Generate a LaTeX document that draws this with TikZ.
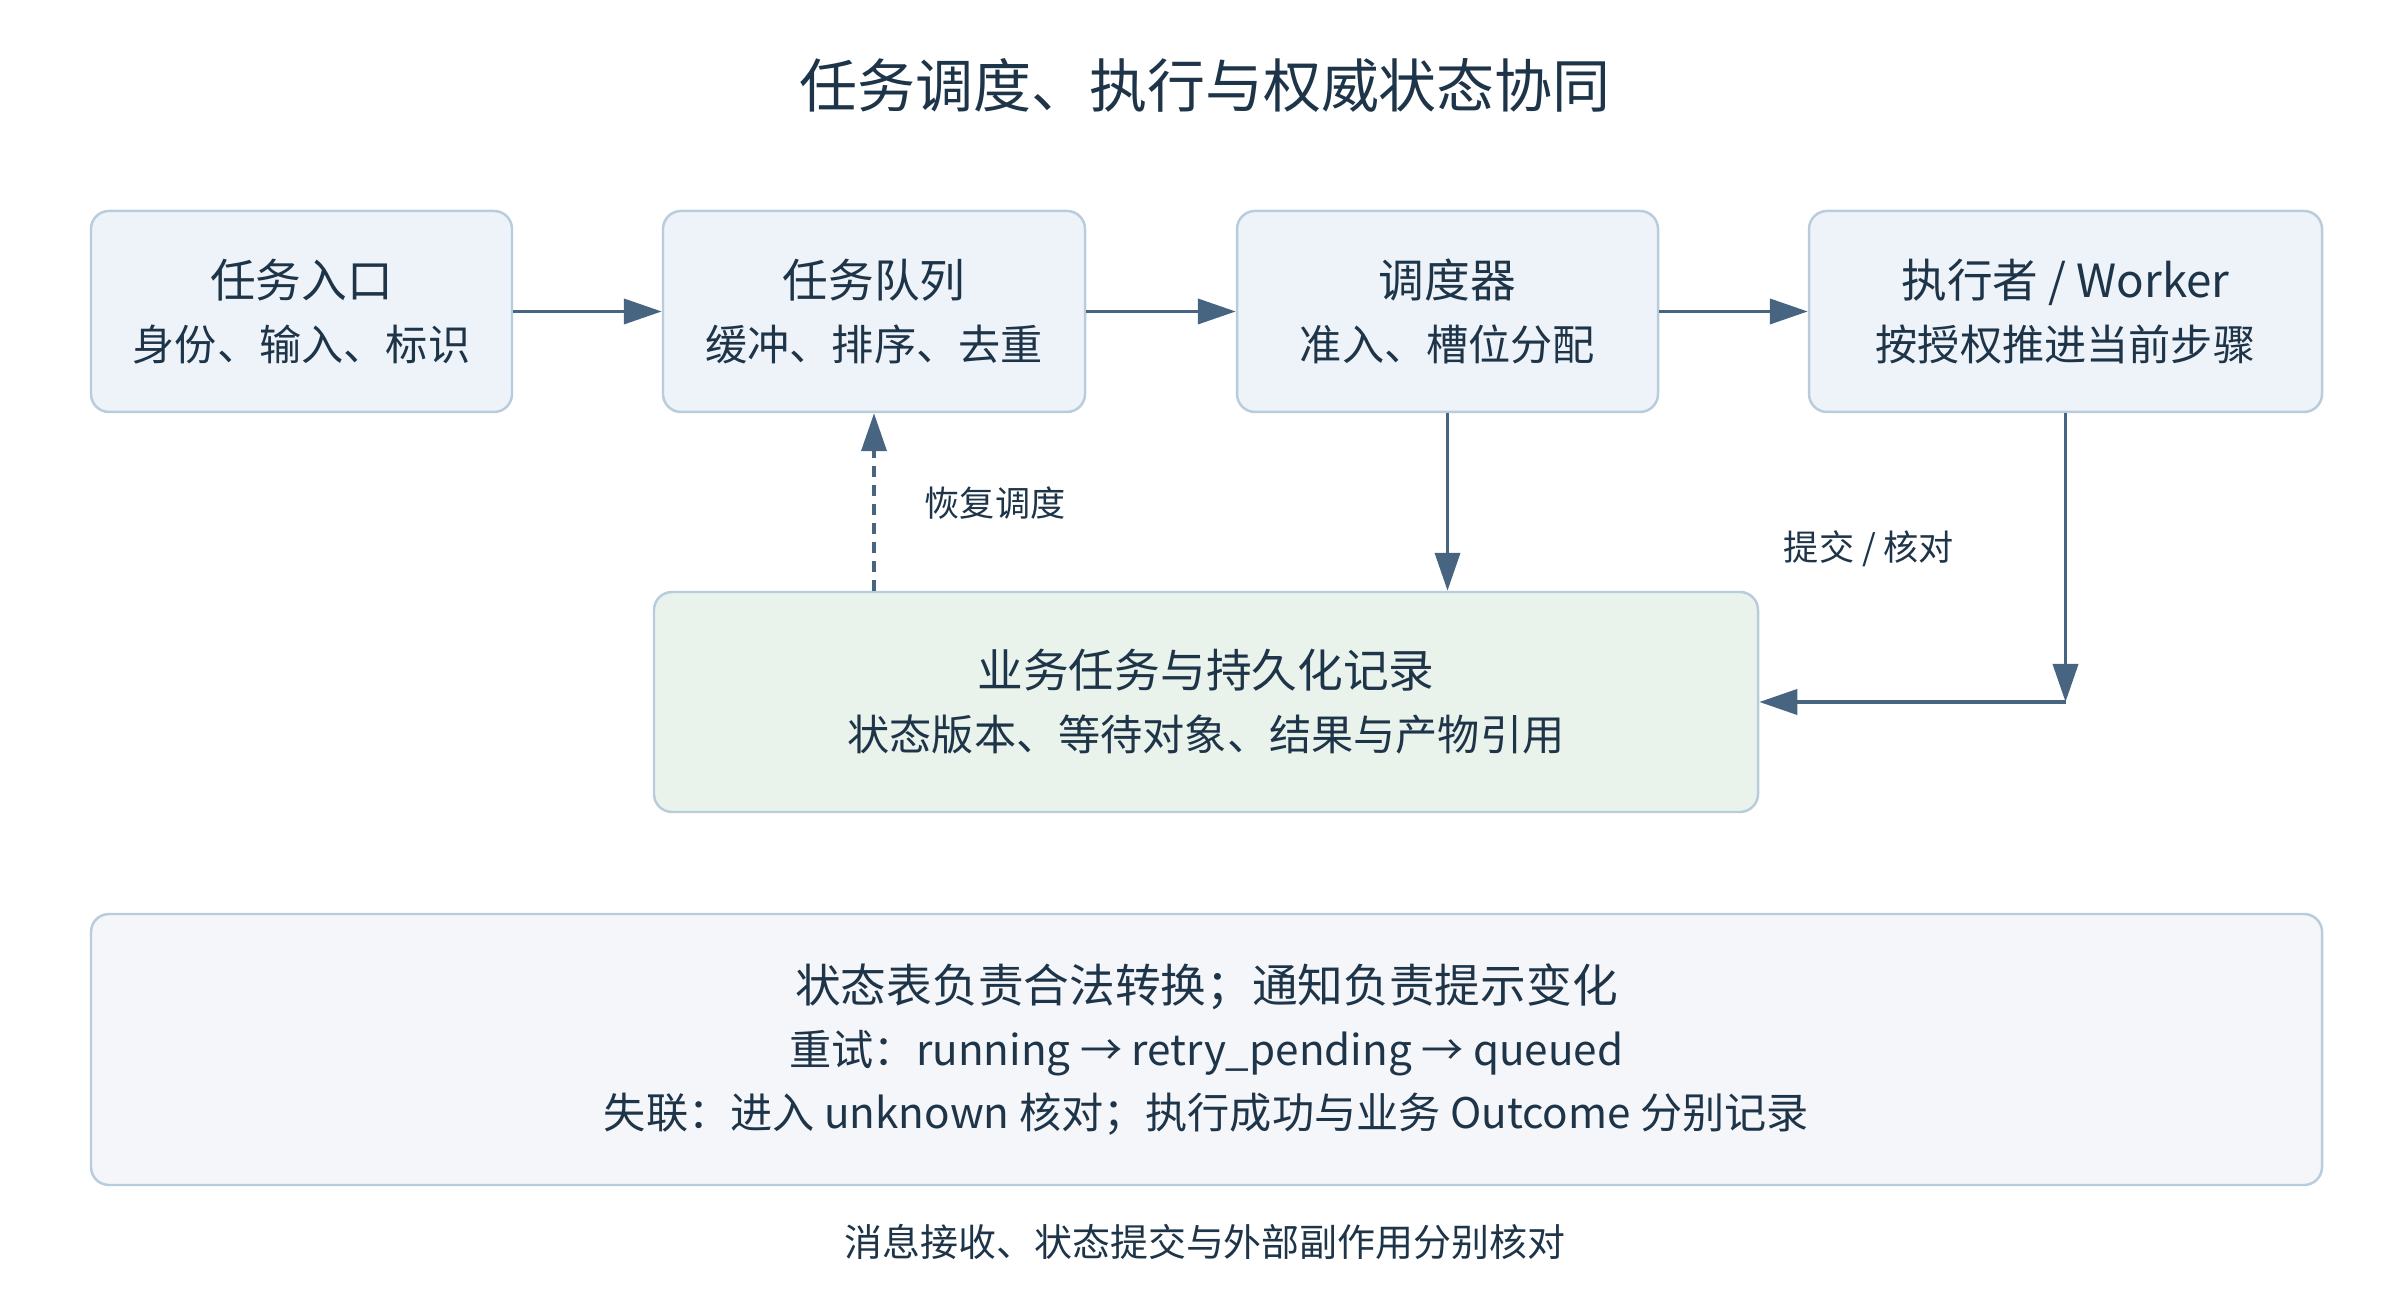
\documentclass[tikz,border=0pt]{standalone}
\usepackage{fontspec}
\setmainfont{Noto Sans CJK SC}
\usepackage{tikz}
\usetikzlibrary{arrows.meta,positioning,calc}

\definecolor{inkc}{HTML}{1E3448}
\definecolor{linec}{HTML}{476580}
\definecolor{stagefill}{HTML}{EDF3F9}
\definecolor{stageedge}{HTML}{B9CCDC}
\definecolor{recfill}{HTML}{E9F3EC}
\definecolor{notefill}{HTML}{F4F6FA}

\newcommand\fs[2]{\fontsize{#1}{#2}\selectfont}

\tikzset{
  stagebox/.style={draw=stageedge,line width=0.7pt,fill=stagefill,rounded corners=0.18cm,
    minimum height=2.01cm,align=center,text=inkc,font=\fs{12}{18}},
  recordbox/.style={stagebox,fill=recfill,minimum height=2.2cm},
  notebox/.style={stagebox,fill=notefill,minimum height=2.71cm},
  flow/.style={-{Triangle[length=0.38cm,width=0.25cm]},draw=linec,line width=1.1pt},
  flowback/.style={flow,dash pattern=on 3pt off 2.4pt},
  tag/.style={text=inkc,font=\fs{10}{12}}
}

\begin{document}
\begin{tikzpicture}
  \useasboundingbox (0,0) rectangle (24,13);

  % ====== Title ======
  \node[text=inkc,font=\fs{16.5}{20}] (title) at (12.05,12.15)
    {任务调度、执行与权威状态协同};

  % ====== Stage boxes ======
  \node[stagebox,minimum width=4.21cm] (entry) at (3.015,9.885)
    {{\fs{13}{18}任务入口}\\身份、输入、标识};
  \node[stagebox,minimum width=4.22cm] (queue) at (8.74,9.885)
    {{\fs{13}{18}任务队列}\\缓冲、排序、去重};
  \node[stagebox,minimum width=4.21cm] (sched) at (14.475,9.885)
    {{\fs{13}{18}调度器}\\准入、槽位分配};
  \node[stagebox,minimum width=5.13cm] (worker) at (20.655,9.885)
    {{\fs{13}{18}执行者 / Worker}\\按授权推进当前步骤};

  % ====== Record store ======
  \node[recordbox,minimum width=11.04cm] (record) at (12.06,5.98)
    {{\fs{13}{18}业务任务与持久化记录}\\状态版本、等待对象、结果与产物引用};

  % ====== Connectors ======
  \draw[flow] (entry) -- (queue);
  \draw[flow] (queue) -- (sched);
  \draw[flow] (sched) -- (worker);
  \draw[flow] (sched.south) -- (sched.south |- record.north);
  \draw[flowback] (queue.south |- record.north) -- (queue.south);
  \coordinate (turn) at (worker.south |- record.east);
  \draw[flow] (worker.south) -- (turn);
  \draw[flow] (turn) -- (record.east);
  \node[tag] (resume) at (9.95,7.97) {恢复调度};
  \node[tag] (commit) at (18.69,7.51) {提交 / 核对};

  % ====== Notes ======
  \node[notebox,minimum width=22.31cm] (note) at (12.065,2.505)
    {{\fs{13}{18}状态表负责合法转换；通知负责提示变化}\\
     重试：running → retry\_pending → queued\\
     失联：进入 unknown 核对；执行成功与业务 Outcome 分别记录};
  \node[tag,font=\fs{10.8}{13}] (footer) at (12.05,0.58)
    {消息接收、状态提交与外部副作用分别核对};
\end{tikzpicture}
\end{document}
